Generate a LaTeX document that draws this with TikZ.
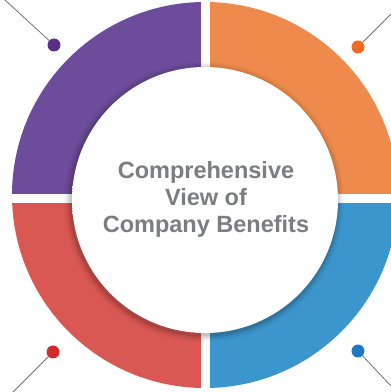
\documentclass[tikz,border=0pt]{standalone}
\usepackage{fontspec}
\setmainfont{Liberation Sans}
\usetikzlibrary{positioning}
\definecolor{ringpurple}{HTML}{6D4C9B}
\definecolor{ringorange}{HTML}{EE8A4B}
\definecolor{ringred}{HTML}{DA5853}
\definecolor{ringblue}{HTML}{3B96CD}
\definecolor{dotpurple}{HTML}{5A2F88}
\definecolor{dotorange}{HTML}{EF6A22}
\definecolor{dotred}{HTML}{D42B2B}
\definecolor{dotblue}{HTML}{2179C2}
\definecolor{titlegray}{HTML}{7C7D80}
\pgfdeclareradialshading{discshade}{\pgfpoint{6bp}{6bp}}%
  {color(0bp)=(white); color(30bp)=(white); color(50bp)=(black!9); color(100bp)=(black!9)}

\begin{document}
\begin{tikzpicture}
[x=1pt,y=1pt,
 bullet/.style={circle,inner sep=0pt,minimum size=13pt},
 pin/.style={draw=black!55,line width=0.8pt},
 gap/.style={draw=white,line width=9pt}]
\useasboundingbox (0,0) rectangle (391,392);
\coordinate (ring) at (205,197);
\coordinate (hub) at (205,192);

% ring quadrants
\foreach \col/\a in {ringorange/0,ringpurple/90,ringred/180,ringblue/270}
  \fill[\col] (ring) -- ++(\a:193) arc[start angle=\a,delta angle=90,radius=193] -- cycle;
\draw[gap] (205.5,0) -- (205.5,392);
\draw[gap] (0,193) -- (391,193);

% centre disc with soft shadow
\foreach \r/\o in {140/0.03,138/0.05,136/0.07,134.5/0.09}
  \fill[black,opacity=\o] (hub) ++(-1,-2) circle (\r);
\shade[shading=discshade] (hub) circle (133);
\node[align=center,text=titlegray,font=\bfseries\fontsize{23.5}{27}\selectfont] (title) at (206,193)
  {Comprehensive\\View of\\Company Benefits};

% pins
\node[bullet,fill=dotpurple] (pdot) at (54,347) {};
\node[bullet,fill=dotorange] (odot) at (358,345) {};
\node[bullet,fill=dotred] (rdot) at (53,40) {};
\node[bullet,fill=dotblue] (bdot) at (358,41) {};
\coordinate (pend) at (5,392);
\coordinate (oend) at (391,378);
\coordinate (rend) at (13,0);
\coordinate (bend) at (391,6);

\draw[pin] (pend) -- (pdot);
\draw[pin] (oend) -- (odot);
\draw[pin] (rend) -- (rdot);
\draw[pin] (bend) -- (bdot);
\end{tikzpicture}
\end{document}
